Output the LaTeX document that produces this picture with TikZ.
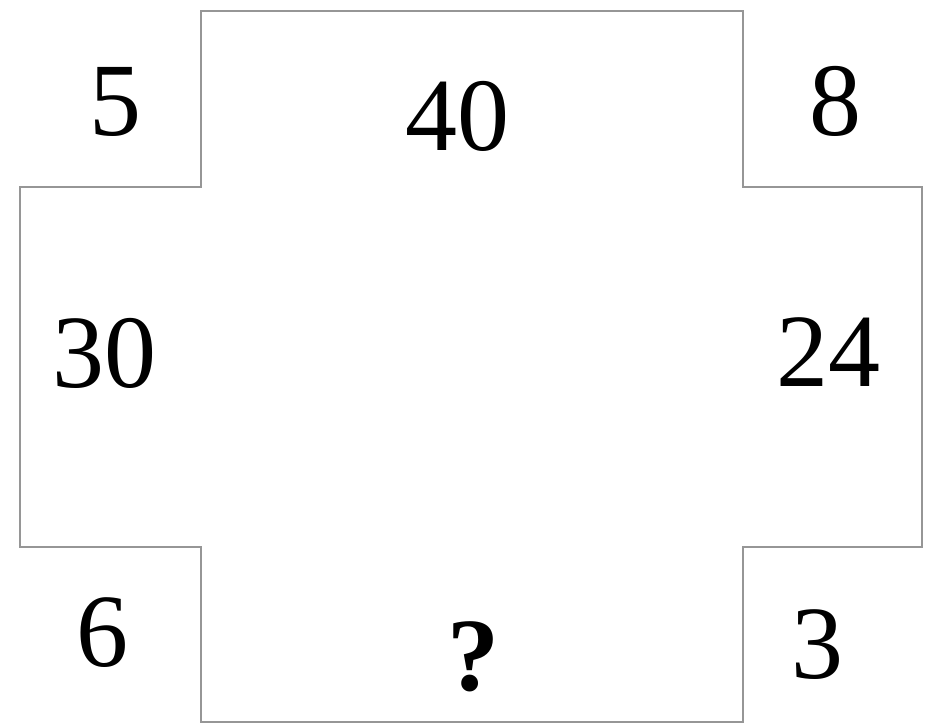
\documentclass[tikz,border=0pt]{standalone}
\usepackage{fontspec}
\setmainfont{Liberation Serif}
\begin{document}
\begin{tikzpicture}[x=0.75pt,y=-0.75pt,
  outline/.style={draw={rgb,255:red,150;green,150;blue,150},line width=2pt,line join=miter},
  num/.style={anchor=base,inner sep=0pt,font=\fontsize{78}{90}\selectfont}]
\useasboundingbox (0,0) rectangle (949,725);
\fill[white] (0,0) rectangle (949,725);
\draw[outline] (201,722) -- (201,547) -- (20,547) -- (20,187) -- (201,187) -- (201,11)
  -- (743,11) -- (743,187) -- (922,187) -- (922,547) -- (743,547) -- (743,722) -- cycle;
\node[num] (n5) at (115,135) {5};
\node[num] (n40) at (457,150) {40};
\node[num] (n8) at (835,135) {8};
\node[num] (n30) at (104,387) {30};
\node[num] (n24) at (828,386) {24};
\node[num] (n6) at (102,666) {6};
\node[num] (q) at (473,690) {\bfseries ?};
\node[num] (n3) at (817,678) {3};
\end{tikzpicture}
\end{document}
